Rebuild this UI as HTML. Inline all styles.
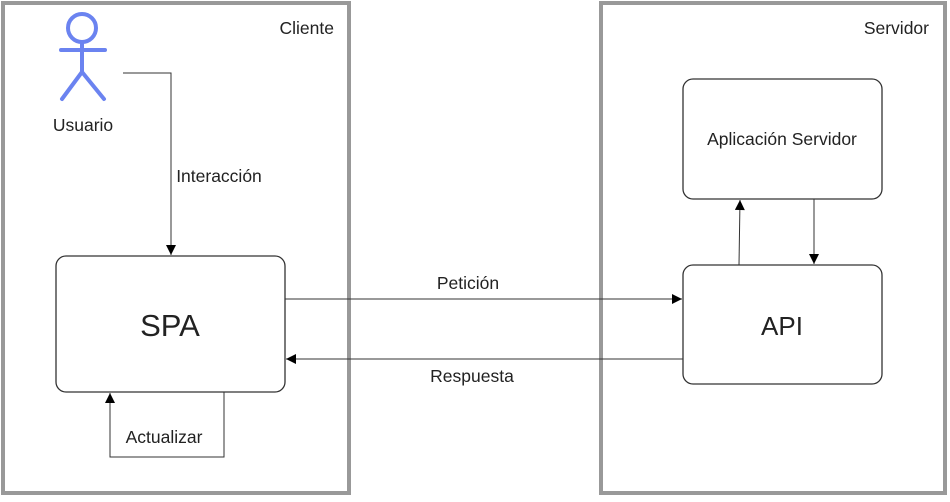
<!DOCTYPE html>
<html><head><style>
body{margin:0;background:#fff}
svg text{font-family:"Liberation Sans",sans-serif;fill:#222}
</style></head><body>
<svg width="950" height="497" viewBox="0 0 950 497">
<defs><marker id="a" viewBox="0 0 10 10" refX="10" refY="5" markerWidth="11" markerHeight="10" orient="auto" markerUnits="userSpaceOnUse"><path d="M0,0L10,5L0,10z" fill="#000"/></marker></defs>
<rect x="3" y="3" width="346" height="490" fill="none" stroke="#999" stroke-width="4"/>
<rect x="601" y="3" width="344" height="490" fill="none" stroke="#999" stroke-width="4"/>
<text x="334" y="34" font-size="17.5" text-anchor="end">Cliente</text>
<text x="929" y="34" font-size="17.5" text-anchor="end">Servidor</text>
<g stroke="#6b83f0" stroke-width="4" fill="none" stroke-linecap="round">
<circle cx="82" cy="28" r="14"/>
<line x1="61" y1="50" x2="105" y2="50"/>
<line x1="82" y1="42" x2="82" y2="72"/>
<line x1="82" y1="72" x2="62" y2="99"/>
<line x1="82" y1="72" x2="104" y2="99"/>
</g>
<text x="83" y="131" font-size="17.5" text-anchor="middle">Usuario</text>
<g stroke="#333" stroke-width="1.3" fill="#fff">
<rect x="56" y="256" width="229" height="136" rx="10"/>
<rect x="683" y="265" width="199" height="119" rx="10"/>
<rect x="683" y="79" width="199" height="120" rx="10"/>
</g>
<text x="170" y="336" font-size="31" text-anchor="middle">SPA</text>
<text x="782" y="335" font-size="26" text-anchor="middle">API</text>
<text x="782" y="145" font-size="17.5" text-anchor="middle">Aplicación Servidor</text>
<g stroke="#333" stroke-width="1" fill="none">
<polyline points="123,73 171,73 171,255" marker-end="url(#a)"/>
<line x1="285" y1="299" x2="682" y2="299" marker-end="url(#a)"/>
<line x1="683" y1="359" x2="286" y2="359" marker-end="url(#a)"/>
<polyline points="224,392 224,457 110,457 110,393" marker-end="url(#a)"/>
<line x1="739" y1="265" x2="740" y2="200" marker-end="url(#a)"/>
<line x1="814" y1="199" x2="814" y2="264" marker-end="url(#a)"/>
</g>
<text x="219" y="182" font-size="17.5" text-anchor="middle">Interacción</text>
<text x="468" y="289" font-size="17.5" text-anchor="middle">Petición</text>
<text x="472" y="382" font-size="17.5" text-anchor="middle">Respuesta</text>
<text x="164" y="443" font-size="17.5" text-anchor="middle">Actualizar</text>
</svg>
</body></html>
